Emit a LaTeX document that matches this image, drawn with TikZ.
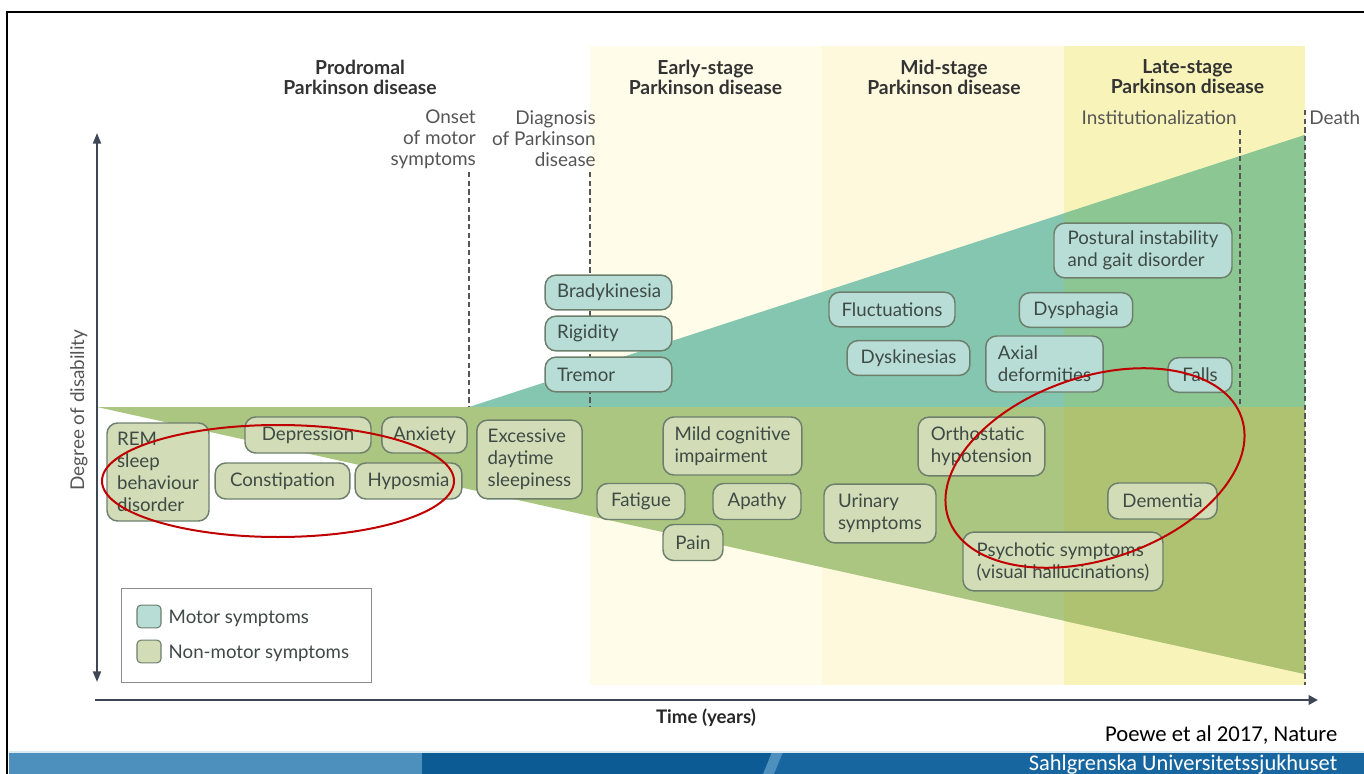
\documentclass[tikz,border=0pt]{standalone}
\usepackage{fontspec}
\setmainfont{Lato}
\newfontfamily\slidefont{Carlito}
\usetikzlibrary{arrows.meta}

\definecolor{earlyband}{HTML}{FFFDE9}
\definecolor{midband}{HTML}{FEF9DC}
\definecolor{lateband}{HTML}{F7F3B9}
\definecolor{motorwedge}{HTML}{84C6B0}
\definecolor{motorwedgelate}{HTML}{8CC693}
\definecolor{nmwedge}{HTML}{ABC680}
\definecolor{nmwedgelate}{HTML}{AEC272}
\definecolor{motorbox}{HTML}{B7DDD6}
\definecolor{nmbox}{HTML}{D2DDB8}
\definecolor{boxline}{HTML}{6D7F6C}
\definecolor{boxtext}{HTML}{3F4A45}
\definecolor{axisgrey}{HTML}{3D4756}
\definecolor{labelgrey}{HTML}{555555}
\definecolor{annotred}{HTML}{C00000}
\definecolor{bannerlight}{HTML}{4D8FBD}
\definecolor{bannerdark}{HTML}{0D5B94}
\definecolor{bannermid}{HTML}{1866A0}

\begin{document}
\begin{tikzpicture}[x=0.75pt,y=-0.75pt,
  symptom/.style={draw=boxline,line width=1.1pt,rounded corners=8pt,text=boxtext,
    align=left,inner sep=0pt,font=\fontsize{14}{16.5}\selectfont},
  motor/.style={symptom,fill=motorbox,minimum height=26pt},
  nonmotor/.style={symptom,fill=nmbox,minimum height=27pt},
  stack/.style={inner xsep=9pt,text width=77pt},
  stagetitle/.style={align=center,text=black!80,font=\fontsize{14.5}{15}\selectfont\bfseries},
  eventlabel/.style={align=right,inner sep=0pt,text=labelgrey,font=\fontsize{14.2}{15.75}\selectfont},
  marker/.style={labelgrey,dashed,line width=0.9pt,dash pattern=on 4pt off 2.5pt},
  swatch/.style={draw=boxline,line width=0.8pt,rounded corners=3pt,minimum width=18pt,minimum height=17pt,inner sep=0pt},
  keytext/.style={anchor=west,text=boxtext,font=\fontsize{14}{16}\selectfont},
  annot/.style={annotred,line width=1.5pt}]
\useasboundingbox (0,0) rectangle (1364,774);

% Slide frame and banner
\draw[line width=2pt] (7,774) -- (7,12) -- (1364,12);
\fill[bannerlight] (9,752) rectangle (422,774);
\fill[bannerdark] (422,752) rectangle (1364,774);
\fill[bannermid] (775,752) rectangle (1364,774);
\fill[bannerlight] (763,774) -- (772,752) -- (783,752) -- (774,774) -- cycle;
\draw[white!80!bannerlight,line width=1pt] (9,752) -- (1364,752);

% Stage bands
\fill[earlyband] (590,46) rectangle (822,685);
\fill[midband] (822,46) rectangle (1064,685);
\fill[lateband] (1064,46) rectangle (1305,685);

% Symptom wedges
\fill[motorwedge] (469,407) -- (1305,135) -- (1305,407) -- cycle;
\fill[nmwedge] (97,407) -- (1305,407) -- (1305,674) -- cycle;
\begin{scope}
\clip (1064,46) rectangle (1305,685);
\fill[motorwedgelate] (469,407) -- (1305,135) -- (1305,407) -- cycle;
\fill[nmwedgelate] (97,407) -- (1305,407) -- (1305,674) -- cycle;
\end{scope}

% Event markers
\coordinate (onsetTop) at (469,172);
\coordinate (onsetBot) at (469,407);
\coordinate (diagTop) at (590,172);
\coordinate (diagBot) at (590,407);
\coordinate (instTop) at (1240,130);
\coordinate (instBot) at (1240,407);
\coordinate (deathTop) at (1305,110);
\coordinate (deathBot) at (1305,685);
\draw[marker] (onsetTop) -- (onsetBot);
\draw[marker] (diagTop) -- (diagBot);
\draw[marker] (instTop) -- (instBot);
\draw[marker] (deathTop) -- (deathBot);

% Axes
\coordinate (ytop) at (97,133);
\coordinate (ybot) at (97,682);
\coordinate (xstart) at (95,700);
\coordinate (xend) at (1318,700);
\draw[axisgrey,line width=1.5pt,{Triangle[length=8pt,width=6pt]}-{Triangle[length=8pt,width=6pt]}] (ybot) -- (ytop);
\draw[axisgrey,line width=2.2pt,-{Triangle[length=7pt,width=7pt]}] (xstart) -- (xend);
\node[rotate=90,text=labelgrey,font=\fontsize{14.2}{16}\selectfont] (ylabel) at (79,410) {Degree of disability};
\node[text=black!85,font=\fontsize{14}{16}\selectfont\bfseries] (xlabel) at (706,718) {Time (years)};

% Stage titles
\node[stagetitle] (prodromal) at (360,77) {Prodromal\\Parkinson disease};
\node[stagetitle] (earlystage) at (705.5,77) {Early-stage\\Parkinson disease};
\node[stagetitle] (midstage) at (944,77) {Mid-stage\\Parkinson disease};
\node[stagetitle] (latestage) at (1187.5,77) {Late-stage\\Parkinson disease};

% Event labels
\node[eventlabel,anchor=east] (onset) at (476,139) {Onset\\of motor\\symptoms};
\node[eventlabel,anchor=east] (diagnosis) at (596,139) {Diagnosis\\of Parkinson\\disease};
\node[eventlabel,anchor=east] (institution) at (1237,118) {Institutionalization};
\node[eventlabel,anchor=west] (death) at (1309,118) {Death};

% Motor symptoms
\node[motor,stack] (brady) at (608.5,292.5) {Bradykinesia};
\node[motor,stack] (rigid) at (608.5,333.5) {Rigidity};
\node[motor,stack] (tremor) at (608.5,374.5) {Tremor};
\node[motor,minimum width=94.5pt] (fluct) at (892,309.5) {Fluctuations};
\node[motor,minimum width=92pt] (dyskin) at (908.5,358) {Dyskinesias};
\node[motor,minimum width=88pt,minimum height=42pt] (axial) at (1044.5,364) {Axial\\deformities};
\node[motor,minimum width=85pt] (dysphag) at (1076,310) {Dysphagia};
\node[motor,minimum width=133.5pt,minimum height=41pt] (postural) at (1143,250.5) {Postural instability\\and gait disorder};
\node[motor,minimum width=48pt] (falls) at (1200,375) {Falls};

% Non-motor symptoms
\node[nonmotor,minimum width=76.5pt,minimum height=73.5pt] (rem) at (158,472) {REM\\sleep\\behaviour\\disorder};
\node[nonmotor,minimum width=94.5pt] (depress) at (308,435) {Depression};
\node[nonmotor,minimum width=64pt] (anxiety) at (424.5,435) {Anxiety};
\node[nonmotor,minimum width=101pt] (constip) at (282.5,481) {Constipation};
\node[nonmotor,minimum width=80pt] (hyposm) at (408.5,481) {Hyposmia};
\node[nonmotor,minimum width=79pt,minimum height=59pt] (sleepy) at (529.5,459.5) {Excessive\\daytime\\sleepiness};
\node[nonmotor,minimum width=104pt,minimum height=43.5pt] (mci) at (732.5,446) {Mild cognitive\\impairment};
\node[nonmotor,minimum width=66pt] (fatigue) at (641,501.5) {Fatigue};
\node[nonmotor,minimum width=66pt] (apathy) at (757,501.5) {Apathy};
\node[nonmotor,minimum width=45pt] (pain) at (693,542.5) {Pain};
\node[nonmotor,minimum width=84pt,minimum height=44pt] (urinary) at (880,513.5) {Urinary\\symptoms};
\node[nonmotor,minimum width=95pt,minimum height=44pt] (ortho) at (981.5,446.5) {Orthostatic\\hypotension};
\node[nonmotor,minimum width=82pt] (dementia) at (1162.5,501) {Dementia};
\node[nonmotor,minimum width=150pt,minimum height=44pt] (psychotic) at (1063,561.5) {Psychotic symptoms\\(visual hallucinations)};

% Legend
\node[draw=black!45,fill=white,line width=0.8pt,minimum width=188pt,minimum height=70pt,inner sep=0pt] (legend) at (246.5,635.5) {};
\node[swatch,fill=motorbox] (motorkey) at (149,616.5) {};
\node[swatch,fill=nmbox] (nmkey) at (149,651.5) {};
\node[keytext] (motorlabel) at (164,618) {Motor symptoms};
\node[keytext] (nmlabel) at (164,653) {Non-motor symptoms};

% Red annotations
\draw[annot] (278,481) ellipse [x radius=176, y radius=56];
\draw[annot,rotate around={19:(1095,468)}] (1095,468) ellipse [x radius=155, y radius=91];

% Source and banner text
\node[anchor=east,font=\slidefont\fontsize{17}{19}\selectfont] (source) at (1342,735) {Poewe et al 2017, Nature};
\node[anchor=east,text=white,font=\slidefont\fontsize{16.8}{18}\selectfont] (hospital) at (1342,765) {Sahlgrenska Universitetssjukhuset};
\end{tikzpicture}
\end{document}
